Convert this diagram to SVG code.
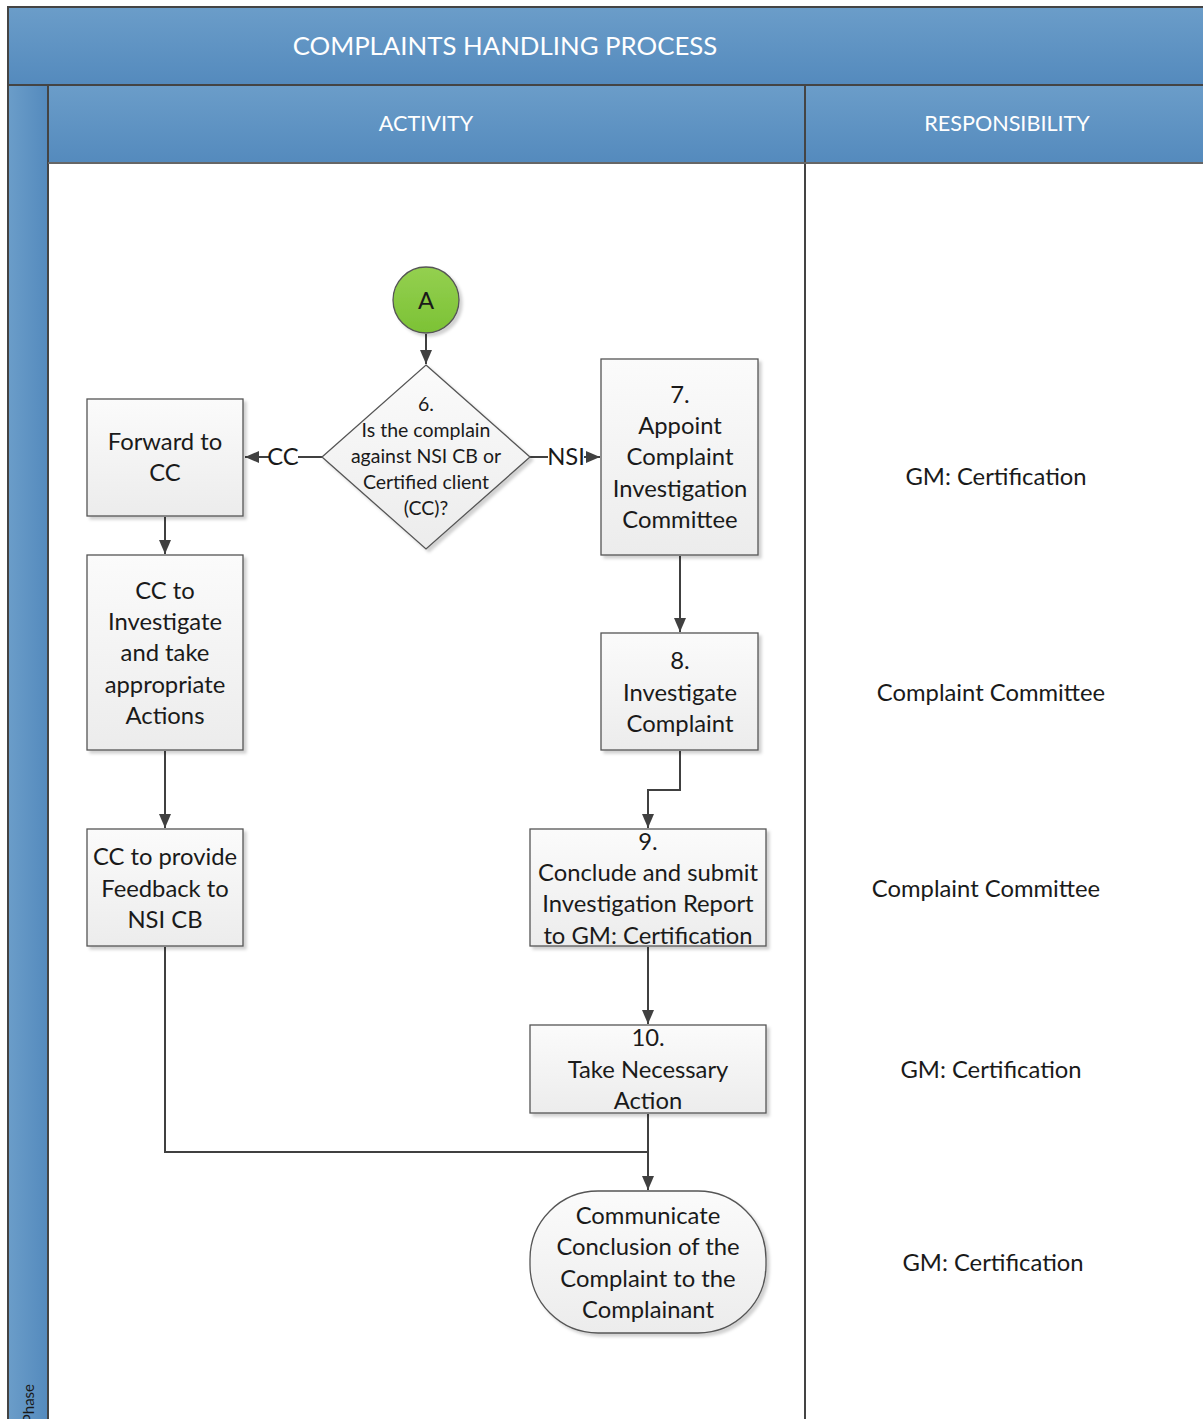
<svg xmlns="http://www.w3.org/2000/svg" width="1203" height="1419" viewBox="0 0 1203 1419">
<defs>
  <linearGradient id="hdr" x1="0" y1="0" x2="0" y2="1">
    <stop offset="0" stop-color="#6b9dc9"/>
    <stop offset="1" stop-color="#548abd"/>
  </linearGradient>
  <linearGradient id="lane" x1="0" y1="0" x2="1" y2="0">
    <stop offset="0" stop-color="#6b9dc9"/>
    <stop offset="1" stop-color="#548abd"/>
  </linearGradient>
  <linearGradient id="box" x1="0" y1="0" x2="0" y2="1">
    <stop offset="0" stop-color="#fbfbfb"/>
    <stop offset="1" stop-color="#ececec"/>
  </linearGradient>
  <linearGradient id="grn" x1="0" y1="0" x2="0" y2="1">
    <stop offset="0" stop-color="#94d050"/>
    <stop offset="1" stop-color="#7cc235"/>
  </linearGradient>
  <filter id="sh" x="-10%" y="-10%" width="130%" height="130%">
    <feDropShadow dx="3" dy="3" stdDeviation="1.5" flood-color="#000" flood-opacity="0.18"/>
  </filter>
  <marker id="arr" viewBox="0 0 14 12" refX="14" refY="6" markerWidth="14" markerHeight="12" markerUnits="userSpaceOnUse" orient="auto">
    <path d="M0,0 L14,6 L0,12 Z" fill="#404040"/>
  </marker>
  <style>
    .hdrtxt{font-family:"Lato","Liberation Sans",sans-serif;fill:#ffffff;text-anchor:middle}
    .t{font-family:"Lato","Liberation Sans",sans-serif;font-size:23.8px;fill:#1a1a1a;text-anchor:middle}
    .d{font-family:"Lato","Liberation Sans",sans-serif;font-size:19.5px;fill:#1a1a1a;text-anchor:middle}
    .shape{fill:url(#box);stroke:#555555;stroke-width:1.3;filter:url(#sh)}
    .conn{fill:none;stroke:#404040;stroke-width:2}
    .frame{stroke:#444444;stroke-width:2}
  </style>
</defs>

<g id="pool">
  <rect x="8" y="7" width="1200" height="78" fill="url(#hdr)" class="frame"/>
  <text class="hdrtxt" x="505" y="55" font-size="25.8">COMPLAINTS HANDLING PROCESS</text>
  <rect x="8" y="85" width="40" height="1340" fill="url(#lane)" class="frame"/>
  <text font-family="Lato, 'Liberation Sans', sans-serif" font-size="15" fill="#1a1a1a" text-anchor="end" transform="translate(34,1384) rotate(-90)">Phase</text>
  <rect x="48" y="85" width="757" height="78" fill="url(#hdr)" class="frame"/>
  <text class="hdrtxt" x="426" y="131" font-size="21.6">ACTIVITY</text>
  <rect x="805" y="85" width="403" height="78" fill="url(#hdr)" class="frame"/>
  <text class="hdrtxt" x="1007" y="131" font-size="21.6">RESPONSIBILITY</text>
  <line x1="805" y1="163" x2="805" y2="1425" stroke="#444444" stroke-width="2"/>
  <line x1="48" y1="163" x2="1203" y2="163" stroke="#888888" stroke-width="1"/>
</g>

<g id="connectors">
  <path class="conn" d="M426,334 L426,364" marker-end="url(#arr)"/>
  <path class="conn" d="M322,457 L298,457 M269,457 L245,457" marker-end="url(#arr)"/>
  <text class="t" x="283" y="465">CC</text>
  <path class="conn" d="M530,457 L548,457 M584,457 L600,457" marker-end="url(#arr)"/>
  <text class="t" x="566" y="465">NSI</text>
  <path class="conn" d="M165,517 L165,554" marker-end="url(#arr)"/>
  <path class="conn" d="M165,751 L165,828" marker-end="url(#arr)"/>
  <path class="conn" d="M680,556 L680,632" marker-end="url(#arr)"/>
  <path class="conn" d="M680,751 L680,790 L648,790 L648,828" marker-end="url(#arr)"/>
  <path class="conn" d="M648,947 L648,1024" marker-end="url(#arr)"/>
  <path class="conn" d="M648,1114 L648,1190" marker-end="url(#arr)"/>
  <path class="conn" d="M165,947 L165,1152 L648,1152"/>
</g>

<g id="nodeA">
  <circle cx="426" cy="300" r="33" fill="url(#grn)" stroke="#555555" stroke-width="1.3" filter="url(#sh)"/>
  <text class="t" x="426" y="309">A</text>
</g>

<g id="node6">
  <polygon class="shape" points="426,365 530,457 426,549 322,457"/>
  <text class="d" x="426" y="411">6.</text>
  <text class="d" x="426" y="437">Is the complain</text>
  <text class="d" x="426" y="463">against NSI CB or</text>
  <text class="d" x="426" y="489">Certified client</text>
  <text class="d" x="426" y="515">(CC)?</text>
</g>

<g id="nodeForward">
  <rect class="shape" x="87" y="399" width="156" height="117"/>
  <text class="t" x="165" y="450">Forward to</text>
  <text class="t" x="165" y="481">CC</text>
</g>

<g id="nodeCCInvestigate">
  <rect class="shape" x="87" y="555" width="156" height="195"/>
  <text class="t" x="165" y="599">CC to</text>
  <text class="t" x="165" y="630">Investigate</text>
  <text class="t" x="165" y="661">and take</text>
  <text class="t" x="165" y="693">appropriate</text>
  <text class="t" x="165" y="724">Actions</text>
</g>

<g id="nodeCCFeedback">
  <rect class="shape" x="87" y="829" width="156" height="117"/>
  <text class="t" x="165" y="865">CC to provide</text>
  <text class="t" x="165" y="897">Feedback to</text>
  <text class="t" x="165" y="928">NSI CB</text>
</g>

<g id="node7">
  <rect class="shape" x="601" y="359" width="157" height="196"/>
  <text class="t" x="680" y="403">7.</text>
  <text class="t" x="680" y="434">Appoint</text>
  <text class="t" x="680" y="465">Complaint</text>
  <text class="t" x="680" y="497">Investigation</text>
  <text class="t" x="680" y="528">Committee</text>
</g>

<g id="node8">
  <rect class="shape" x="601" y="633" width="157" height="117"/>
  <text class="t" x="680" y="669">8.</text>
  <text class="t" x="680" y="701">Investigate</text>
  <text class="t" x="680" y="732">Complaint</text>
</g>

<g id="node9">
  <rect class="shape" x="530" y="829" width="236" height="117"/>
  <text class="t" x="648" y="850">9.</text>
  <text class="t" x="648" y="881">Conclude and submit</text>
  <text class="t" x="648" y="912">Investigation Report</text>
  <text class="t" x="648" y="944">to GM: Certification</text>
</g>

<g id="node10">
  <rect class="shape" x="530" y="1025" width="236" height="88"/>
  <text class="t" x="648" y="1046">10.</text>
  <text class="t" x="648" y="1078">Take Necessary</text>
  <text class="t" x="648" y="1109">Action</text>
</g>

<g id="nodeCommunicate">
  <rect class="shape" x="530" y="1191" width="236" height="142" rx="68" ry="68"/>
  <text class="t" x="648" y="1224">Communicate</text>
  <text class="t" x="648" y="1255">Conclusion of the</text>
  <text class="t" x="648" y="1287">Complaint to the</text>
  <text class="t" x="648" y="1318">Complainant</text>
</g>

<g id="responsibility">
  <text class="t" x="996" y="485">GM: Certification</text>
  <text class="t" x="991" y="701">Complaint Committee</text>
  <text class="t" x="986" y="897">Complaint Committee</text>
  <text class="t" x="991" y="1078">GM: Certification</text>
  <text class="t" x="993" y="1271">GM: Certification</text>
</g>
</svg>
